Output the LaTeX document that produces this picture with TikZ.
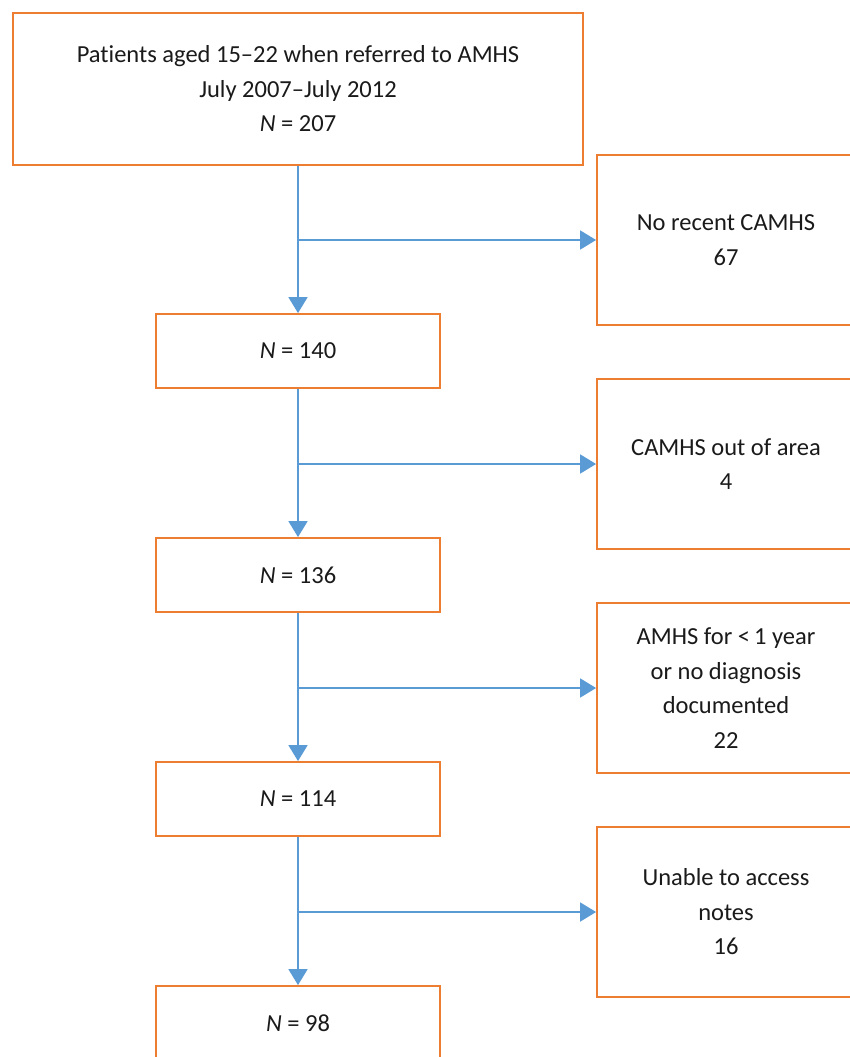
\documentclass[tikz,border=0pt]{standalone}
\usepackage{fontspec}
\setmainfont{Carlito}[Ligatures=NoCommon]
\usetikzlibrary{arrows.meta}
\definecolor{boxorange}{HTML}{ED7D31}
\definecolor{arrowblue}{HTML}{5B9BD5}
\definecolor{txt}{HTML}{1A1A1A}
\begin{document}
\begin{tikzpicture}[x=1pt,y=-1pt,
  box/.style={draw=boxorange,line width=1.8pt,fill=white,text=txt,align=center,inner sep=0pt,font=\fontsize{24.5}{34.5}\selectfont},
  mainbox/.style={box,minimum width=284pt,minimum height=74pt},
  sidebox/.style={box,minimum width=258pt,minimum height=170pt},
  flow/.style={draw=arrowblue,line width=1.8pt,-{Triangle[width=19pt,length=16pt]}},
]
\useasboundingbox (0,0) rectangle (849,1057);
\node[box,minimum width=570pt,minimum height=152pt] (top) at (298,89) {Patients aged 15–22 when referred to AMHS\\July 2007–July 2012\\\textit{N} = 207};
\node[mainbox] (n140) at (298,351) {\textit{N} = 140};
\node[mainbox] (n136) at (298,575) {\textit{N} = 136};
\node[mainbox] (n114) at (298,799) {\textit{N} = 114};
\node[mainbox] (n98) at (298,1023) {\textit{N} = 98};
\node[sidebox] (r1) at (726,240) {No recent CAMHS\\67};
\node[sidebox] (r2) at (726,464) {CAMHS out of area\\4};
\node[sidebox] (r3) at (726,688) {AMHS for <\,1 year\\or no diagnosis\\documented\\22};
\node[sidebox] (r4) at (726,912) {Unable to access\\notes\\16};
\coordinate (b1) at (298,240);
\coordinate (b2) at (298,464);
\coordinate (b3) at (298,688);
\coordinate (b4) at (298,912);
\draw[flow] (top.south) -- (n140.north);
\draw[flow] (n140.south) -- (n136.north);
\draw[flow] (n136.south) -- (n114.north);
\draw[flow] (n114.south) -- (n98.north);
\draw[flow] (b1) -- (r1.west);
\draw[flow] (b2) -- (r2.west);
\draw[flow] (b3) -- (r3.west);
\draw[flow] (b4) -- (r4.west);
\end{tikzpicture}
\end{document}
